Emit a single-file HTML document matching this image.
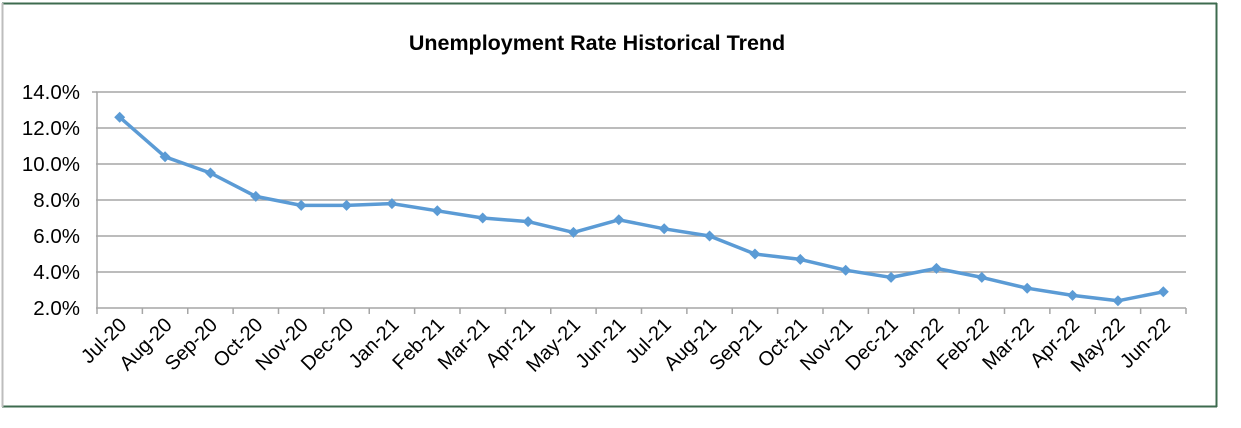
<!DOCTYPE html>
<html><head><meta charset="utf-8"><style>
html,body{margin:0;padding:0;background:#fff;}
svg{display:block;font-family:"Liberation Sans",Arial,sans-serif;}
</style></head><body>
<svg width="1241" height="428" viewBox="0 0 1241 428">
<rect x="0" y="0" width="1241" height="428" fill="#fff"/>
<line x1="2" y1="3.5" x2="1217" y2="3.5" stroke="#3d6b4f" stroke-width="2"/>
<line x1="1216.5" y1="3" x2="1216.5" y2="407" stroke="#3d6b4f" stroke-width="2"/>
<line x1="2" y1="406.5" x2="1217" y2="406.5" stroke="#3d6b4f" stroke-width="2"/>
<line x1="2.5" y1="3" x2="2.5" y2="407" stroke="#bdbdbd" stroke-width="2"/>
<text x="597" y="50" text-anchor="middle" font-size="21.5" font-weight="bold" fill="#000">Unemployment Rate Historical Trend</text>
<g stroke="#a6a6a6" stroke-width="1.5">
<line x1="96" y1="92" x2="1186" y2="92"/>
<line x1="96" y1="128" x2="1186" y2="128"/>
<line x1="96" y1="164" x2="1186" y2="164"/>
<line x1="96" y1="200" x2="1186" y2="200"/>
<line x1="96" y1="236" x2="1186" y2="236"/>
<line x1="96" y1="272" x2="1186" y2="272"/>
<line x1="96" y1="308" x2="1186" y2="308"/>
<line x1="97" y1="92" x2="97" y2="308"/>
<line x1="92" y1="92" x2="97" y2="92"/>
</g>
<g font-size="20.5" fill="#000" text-anchor="end">
<text x="80" y="99">14.0%</text><text x="80" y="135">12.0%</text><text x="80" y="171">10.0%</text><text x="80" y="207">8.0%</text><text x="80" y="243">6.0%</text><text x="80" y="279">4.0%</text><text x="80" y="315">2.0%</text>
</g>
<g id="ticks" stroke="#a6a6a6" stroke-width="1.5"></g>
<g id="labels" font-size="20" fill="#000" text-anchor="end"></g>
<polyline id="line" fill="none" stroke="#5b9bd5" stroke-width="3.5" stroke-linejoin="round"/>
<g id="marks" fill="#5b9bd5"></g>
</svg>
<script>
var v=[12.6,10.4,9.5,8.2,7.7,7.7,7.8,7.4,7.0,6.8,6.2,6.9,6.4,6.0,5.0,4.7,4.1,3.7,4.2,3.7,3.1,2.7,2.4,2.9];
var L=["Jul-20","Aug-20","Sep-20","Oct-20","Nov-20","Dec-20","Jan-21","Feb-21","Mar-21","Apr-21","May-21","Jun-21","Jul-21","Aug-21","Sep-21","Oct-21","Nov-21","Dec-21","Jan-22","Feb-22","Mar-22","Apr-22","May-22","Jun-22"];
var ns="http://www.w3.org/2000/svg",w=(1186-97)/24,pts=[];
var T=document.getElementById("ticks"),Lb=document.getElementById("labels"),M=document.getElementById("marks");
for(var i=0;i<=24;i++){var t=document.createElementNS(ns,"line");var x=97+i*w;t.setAttribute("x1",x);t.setAttribute("x2",x);t.setAttribute("y1",308);t.setAttribute("y2",314);T.appendChild(t);}
for(var i=0;i<24;i++){var x=97+(i+0.5)*w,y=308-(v[i]-2)*18;pts.push(x+","+y);
var m=document.createElementNS(ns,"polygon");m.setAttribute("points",(x)+","+(y-5.5)+" "+(x+5.5)+","+y+" "+x+","+(y+5.5)+" "+(x-5.5)+","+y);M.appendChild(m);
var tx=document.createElementNS(ns,"text");var ax=x+8,ay=326;tx.setAttribute("x",ax);tx.setAttribute("y",ay);tx.setAttribute("transform","rotate(-45 "+ax+" "+ay+")");tx.textContent=L[i];Lb.appendChild(tx);}
document.getElementById("line").setAttribute("points",pts.join(" "));
</script>
</body></html>
